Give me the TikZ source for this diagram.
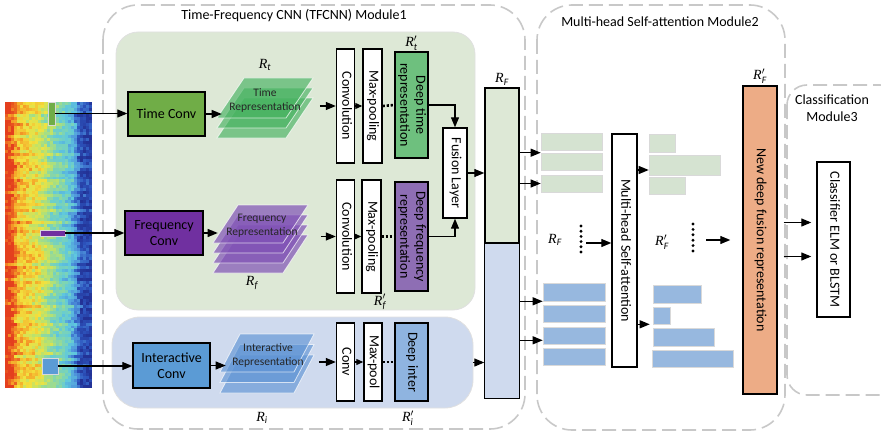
\documentclass[tikz,border=0pt]{standalone}
\usepackage{fontspec}
\setmainfont{Carlito}
\newfontfamily\rfont{Liberation Serif}
\usepackage{graphicx}
\usepackage{xcolor}
\usetikzlibrary{arrows.meta, positioning, calc}

% spectrogram colour map
\definecolor{jet0}{RGB}{35,50,150}
\definecolor{jet1}{RGB}{45,85,190}
\definecolor{jet2}{RGB}{80,150,220}
\definecolor{jet3}{RGB}{95,200,222}
\definecolor{jet4}{RGB}{125,212,180}
\definecolor{jet5}{RGB}{185,226,110}
\definecolor{jet6}{RGB}{242,226,62}
\definecolor{jet7}{RGB}{245,160,40}
\definecolor{jet8}{RGB}{228,62,30}
% block colours
\definecolor{panelgreen}{RGB}{221,232,214}
\definecolor{panelblue}{RGB}{207,218,238}
\definecolor{tconvc}{RGB}{112,173,71}
\definecolor{fconvc}{RGB}{112,48,160}
\definecolor{iconvc}{RGB}{91,155,213}
\definecolor{tdeepc}{RGB}{110,192,126}
\definecolor{fdeepc}{RGB}{142,110,180}
\definecolor{ideepc}{RGB}{143,180,224}
\definecolor{tlayc}{RGB}{70,178,96}
\definecolor{flayc}{RGB}{128,82,182}
\definecolor{ilayc}{RGB}{95,148,212}
\definecolor{fusec}{RGB}{237,172,134}
\definecolor{barg}{RGB}{213,227,209}
\definecolor{barb}{RGB}{151,184,223}
\definecolor{framec}{RGB}{200,200,200}

\newcommand{\vtext}[1]{\rotatebox{-90}{\begin{tabular}{@{}c@{}}#1\end{tabular}}}
\newcommand{\rlab}[2]{{\rfont\itshape R}$#1_{\mathit{#2}}$}

\tikzset{
  modframe/.style={draw=framec, line width=1.6pt, dash pattern=on 14pt off 6pt, rounded corners=35pt},
  panel/.style={draw=black!12, line width=0.8pt, inner sep=0},
  blk/.style={draw, line width=1.4pt, inner sep=0, align=center, font=\fontsize{14}{16}\selectfont},
  vblk/.style={blk, fill=white},
  arr/.style={-{Triangle[length=10pt,width=8pt]}, line width=1.2pt},
  sarr/.style={-{Triangle[length=7pt,width=6pt]}, line width=1.1pt},
  dotline/.style={line width=2.6pt, dash pattern=on 2.2pt off 1.8pt},
  bar/.style={draw=black!15, line width=0.6pt, inner sep=0},
  tlayer/.style={fill=tlayc, fill opacity=0.65, draw=white, draw opacity=0.7, line width=0.8pt},
  flayer/.style={fill=flayc, fill opacity=0.7, draw=white, draw opacity=0.7, line width=0.8pt},
  ilayer/.style={fill=ilayc, fill opacity=0.65, draw=white, draw opacity=0.7, line width=0.8pt},
  replab/.style={align=center, text=black!85, font=\fontsize{11.5}{14}\selectfont},
  rl/.style={font=\fontsize{14}{16}\selectfont, inner sep=1pt},
  mlab/.style={font=\fontsize{14}{17}\selectfont, align=center}
}

\begin{document}
\begin{tikzpicture}[x=1pt,y=-1pt]
  \useasboundingbox (0,0) rectangle (881,436);

  % spectrogram: base level per column, plus row streaks and noise
  \pgfmathsetseed{11}
  \foreach \r in {0,...,95}{
    \pgfmathsetmacro\rs{0.6*rand}
    \foreach \b [count=\k from 0] in {8.3,8.0,7.6,7.0,6.6,6.3,6.2,6.1,6.0,5.9,5.8,5.6,5.3,5.0,4.7,4.4,4.1,3.9,3.7,3.5,3.3,3.0,2.6,2.0,1.2,0.6,0.6,0.5,0.4}{
      \pgfmathsetmacro\v{max(0,min(7.99,\b+\rs+0.7*rand))}
      \pgfmathtruncatemacro\ci{floor(\v)}
      \pgfmathtruncatemacro\cj{\ci+1}
      \pgfmathtruncatemacro\cp{100*(\v-\ci)}
      \fill[jet\cj!\cp!jet\ci] ({5+3*\k},{102+2.98*\r}) rectangle ++(3.05,3.05);
    }
  }
  \node[fill=tconvc, draw=white!70!gray, line width=0.8pt, minimum width=7pt, minimum height=23pt, inner sep=0] (gmark) at (51.5,113.5) {};
  \node[fill=fconvc, draw=white!70!gray, line width=0.8pt, minimum width=25pt, minimum height=6pt, inner sep=0] (pmark) at (52.5,233) {};
  \node[fill=iconvc, draw=white!70!gray, line width=0.8pt, minimum width=16pt, minimum height=16pt, inner sep=0] (bmark) at (50,366) {};

  % module frames
  \draw[modframe] (103,5) rectangle (525,429);
  \draw[modframe] (537,5) rectangle (785,430);
  \draw[modframe, rounded corners=20pt] (787,85) rectangle (900,395);
  \node[mlab] (m1lab) at (294,16) {Time-Frequency CNN (TFCNN) Module1};
  \node[mlab] (m2lab) at (660,22) {Multi-head Self-attention Module2};
  \node[mlab] (m3lab) at (832,108) {Classification\\Module3};

  % module1 panels
  \node[panel, fill=panelgreen, rounded corners=22pt, minimum width=359pt, minimum height=278pt] (tfpanel) at (295.5,171) {};
  \node[panel, fill=panelblue, rounded corners=28pt, minimum width=361pt, minimum height=91pt] (ipanel) at (292.5,362.5) {};

  % time branch
  \node[blk, fill=tconvc, minimum width=77pt, minimum height=44pt] (tconv) at (166.5,114) {Time Conv};
  \foreach \i in {2,1,0}
    \draw[tlayer] (244,{78+10*\i}) -- ++(69,0) -- ++(-27,40) -- ++(-69,0) -- cycle;
  \node[replab] (trep) at (265,100) {Time\\Representation};
  \node[rl] (rt) at (265,65) {\rlab{}{t}};
  \node[vblk, minimum width=18pt, minimum height=114pt] (tconvol) at (345.5,106) {\vtext{Convolution}};
  \node[vblk, minimum width=19pt, minimum height=114pt] (tmaxp) at (372.5,106) {\vtext{Max-pooling}};
  \node[blk, fill=tdeepc, minimum width=33pt, minimum height=106pt] (tdeep) at (411.5,105) {\vtext{Deep time\\representation}};
  \node[rl, above=0pt of tdeep] (rpt) {\rlab{'}{t}};

  % frequency branch
  \node[blk, fill=fconvc, minimum width=78pt, minimum height=44pt] (fconv) at (164,233) {Frequency\\Conv};
  \foreach \i in {3,2,1,0}
    \draw[flayer] (238,{205+10*\i}) -- ++(70,0) -- ++(-25,38) -- ++(-70,0) -- cycle;
  \node[replab] (frep) at (262,226) {Frequency\\Representation};
  \node[rl] (rf) at (252,283) {\rlab{}{f}};
  \node[vblk, minimum width=18pt, minimum height=113pt] (fconvol) at (345.5,236.5) {\vtext{Convolution}};
  \node[vblk, minimum width=19pt, minimum height=113pt] (fmaxp) at (371.5,236.5) {\vtext{Max-pooling}};
  \node[blk, fill=fdeepc, minimum width=33pt, minimum height=109pt] (fdeep) at (411.5,236.5) {\vtext{Deep frequency\\representation}};
  \node[rl] (rpf) at (380,302) {\rlab{'}{f}};

  % fusion
  \node[vblk, minimum width=24pt, minimum height=90pt] (fusion) at (455,173) {\vtext{Fusion Layer}};

  % interactive branch
  \node[blk, fill=iconvc, minimum width=77pt, minimum height=45pt] (iconv) at (171.5,365.5) {Interactive\\Conv};
  \foreach \i in {2,1,0}
    \draw[ilayer] (240,{334+10.5*\i}) -- ++(74,0) -- ++(-20,38) -- ++(-74,0) -- cycle;
  \node[replab] (irep) at (268,355) {Interactive\\Representation};
  \node[rl] (ri) at (262,418) {\rlab{}{i}};
  \node[vblk, minimum width=18pt, minimum height=78pt] (iconvol) at (345.5,362) {\vtext{Conv}};
  \node[vblk, minimum width=18pt, minimum height=78pt] (imaxp) at (373,362) {\vtext{Max-pool}};
  \node[blk, fill=ideepc, minimum width=33pt, minimum height=78pt] (ideep) at (411.5,362) {\vtext{Deep inter}};
  \node[rl] (rpi) at (408,418) {\rlab{'}{i}};

  % fused feature column
  \node[blk, fill=panelgreen, minimum width=34pt, minimum height=310pt] (rfcol) at (502,243) {};
  \fill[panelblue] (rfcol.west) rectangle (rfcol.south east);
  \draw[line width=1.4pt] (rfcol.north west) rectangle (rfcol.south east);
  \draw[line width=1.4pt] (rfcol.west) -- (rfcol.east);
  \node[rl, above=1pt of rfcol] (rF) {\rlab{}{F}};

  % connectors, module1
  \draw[arr] (gmark.east) -- (gmark.east -| tconv.west);
  \draw[arr] (pmark.east) -- (pmark.east -| fconv.west);
  \draw[arr] (bmark.east) -- (bmark.east -| iconv.west);
  \draw[arr] (tconv.east) -- ++(16,0);
  \draw[arr] (fconv.east) -- ++(14,0);
  \draw[arr] (iconv.east) -- ++(15,0);
  \draw[arr] ([xshift=-16pt]tconvol.west) -- (tconvol.west);
  \draw[arr] ([xshift=-15pt]fconvol.west) -- (fconvol.west);
  \draw[arr] ([xshift=-17pt]iconvol.west) -- (iconvol.west);
  \draw[sarr] (tconvol.east) -- (tmaxp.west);
  \draw[sarr] (fconvol.east) -- (fmaxp.west);
  \draw[sarr] (iconvol.east) -- (imaxp.west);
  \draw[dotline] (tmaxp.east) -- (tdeep.west);
  \draw[dotline] (fmaxp.east) -- (fdeep.west);
  \draw[dotline] (imaxp.east) -- (ideep.west);
  \draw[arr] (tdeep.east) -| (fusion.north);
  \draw[arr] (fdeep.east) -| (fusion.south);
  \draw[arr] (fusion.east) -- (fusion.east -| rfcol.west);
  \draw[arr] (ipanel.east) -- (ipanel.east -| rfcol.west);

  % module2: heads before attention
  \node[bar, fill=barg, minimum width=61pt, minimum height=17pt] (gb1) at (571.5,141.5) {};
  \node[bar, fill=barg, minimum width=61pt, minimum height=17pt] (gb2) at (571.5,161.5) {};
  \node[bar, fill=barg, minimum width=61pt, minimum height=17pt] (gb3) at (571.5,183.5) {};
  \node[bar, fill=barb, minimum width=62pt, minimum height=18pt] (bb1) at (574,292) {};
  \node[bar, fill=barb, minimum width=62pt, minimum height=17pt] (bb2) at (574,313.5) {};
  \node[bar, fill=barb, minimum width=62pt, minimum height=17pt] (bb3) at (574,335.5) {};
  \node[bar, fill=barb, minimum width=62pt, minimum height=17pt] (bb4) at (574,356.5) {};
  \draw[arr] (gb2.north west -| rfcol.east) -- (gb2.north west);
  \draw[arr] (gb3.west -| rfcol.east) -- (gb3.west);
  \draw[arr] (bb1.south west -| rfcol.east) -- (bb1.south west);
  \draw[arr] ([yshift=4pt]bb3.south west -| rfcol.east) -- ([yshift=4pt]bb3.south west);
  \node[rl] (rFm) at (555,240) {\rlab{}{F}};
  \foreach \k in {0,...,5}
    \fill (581,{226+5.2*\k}) circle (1.6pt);
  \coordinate (dl) at (586,243);

  \node[vblk, minimum width=25pt, minimum height=233pt] (mhsa) at (624.5,250.5) {\vtext{Multi-head Self-attention}};
  \draw[arr] (dl) -- (dl -| mhsa.west);

  % heads after attention
  \node[bar, fill=barg, minimum width=26pt, minimum height=18pt] (rg1) at (662,143) {};
  \node[bar, fill=barg, minimum width=71pt, minimum height=20pt] (rg2) at (684.5,165) {};
  \node[bar, fill=barg, minimum width=36pt, minimum height=17pt] (rg3) at (667,185.5) {};
  \node[bar, fill=barb, minimum width=48pt, minimum height=18pt] (rb1) at (677,294) {};
  \node[bar, fill=barb, minimum width=17pt, minimum height=17pt] (rb2) at (661.5,315.5) {};
  \node[bar, fill=barb, minimum width=61pt, minimum height=18pt] (rb3) at (683.5,337) {};
  \node[bar, fill=barb, minimum width=81pt, minimum height=17pt] (rb4) at (692.5,358.5) {};
  \draw[arr] ([yshift=-5pt]rg2.west -| mhsa.east) -- ([yshift=-5pt]rg2.west);
  \draw[arr] (rb2.south west -| mhsa.east) -- ([xshift=-3pt]rb2.south west);
  \node[rl] (rpFm) at (662,242) {\rlab{'}{F}};
  \foreach \k in {0,...,5}
    \fill (693,{224+5.4*\k}) circle (1.6pt);
  \coordinate (dr) at (706,240);

  % new fused representation
  \node[blk, fill=fusec, minimum width=34pt, minimum height=308pt] (nfr) at (760,240) {\vtext{New deep fusion representation}};
  \node[rl, above=1pt of nfr] (rpF) {\rlab{'}{F}};
  \draw[arr, shorten >=12pt] (dr) -- (dr -| nfr.west);

  % module3
  \node[vblk, minimum width=33pt, minimum height=155pt] (clf) at (833.5,239.5) {\vtext{Classifier ELM or BLSTM}};
  \draw[arr, shorten <=6pt, shorten >=5pt] ([yshift=17pt]clf.west -| nfr.east) -- ([yshift=17pt]clf.west);
  \draw[arr, shorten <=6pt, shorten >=5pt] ([yshift=-17pt]clf.west -| nfr.east) -- ([yshift=-17pt]clf.west);
\end{tikzpicture}
\end{document}
